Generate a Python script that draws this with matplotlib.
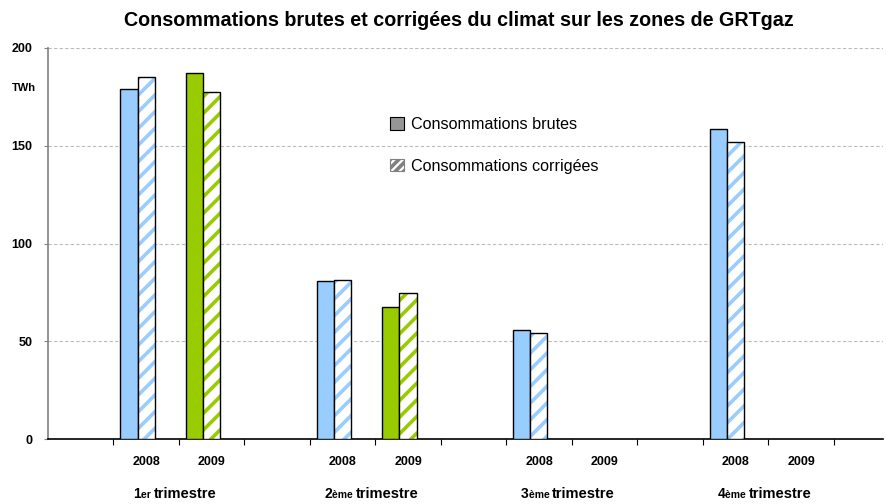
import re
import matplotlib
matplotlib.use("Agg")
import matplotlib.pyplot as plt
from matplotlib.patches import Patch
from matplotlib.offsetbox import TextArea, HPacker, AnnotationBbox

plt.rcParams['font.family'] = ['Liberation Sans', 'DejaVu Sans']
plt.rcParams['hatch.linewidth'] = 2.6

# ---- data ----
quarters = ['1er trimestre', '2ème trimestre', '3ème trimestre', '4ème trimestre']
years = ['2008', '2009']
brutes_2008 = [179, 81, 56, 158.5]
brutes_2009 = [187, 67.5, 0, 0]
corrigees_2008 = [185, 81.3, 54, 152]
corrigees_2009 = [177.5, 74.7, 0, 0]
year_colors = {'2008': '#99CCFF', '2009': '#99CC00'}
yticks = [0, 50, 100, 150, 200]

W, H = 886, 504
fig = plt.figure(figsize=(W / 100, H / 100), dpi=100)
ax = fig.add_axes([48 / W, 1 - 439 / H, (883 - 48) / W, (439 - 48) / H])

brutes = {'2008': brutes_2008, '2009': brutes_2009}
corr = {'2008': corrigees_2008, '2009': corrigees_2009}
bw = 0.26
off = 0.107

label_pos, label_txt = [], []
for qi, q in enumerate(quarters):
    for yi, y in enumerate(years):
        slot = 1 + 3 * qi + yi
        label_pos.append(slot + 0.5)
        label_txt.append(y)
        b = brutes[y][qi]
        c = corr[y][qi]
        col = year_colors[y]
        if b > 0:
            ax.bar(slot + off, b, width=bw, align='edge', color=col,
                   edgecolor='black', linewidth=1.0, zorder=3)
        if c > 0:
            ax.bar(slot + off + bw, c, width=bw, align='edge', color='white',
                   edgecolor=col, hatch='//', linewidth=0, zorder=3)
            ax.bar(slot + off + bw, c, width=bw, align='edge', fill=False,
                   edgecolor='black', linewidth=1.0, zorder=4)

ax.set_xlim(0, 12.75)
ax.set_ylim(0, 200)
ax.set_yticks(yticks)
ax.set_yticklabels([str(v) for v in yticks], fontweight='bold', fontsize=9)
ax.tick_params(axis='y', length=3, pad=8, color='#808080')
ax.set_xticks(range(1, 13))
ax.set_xticklabels([])
ax.tick_params(axis='x', which='major', length=4, direction='out', color='black')
ax.set_xticks(label_pos, minor=True)
ax.set_xticklabels(label_txt, minor=True, fontweight='bold', fontsize=9)
ax.tick_params(axis='x', which='minor', length=0, pad=12)

for v in yticks[1:]:
    ax.axhline(v, color='#BBBBBB', linewidth=0.8, linestyle=(0, (3, 2)), zorder=1)

for s in ['top', 'right']:
    ax.spines[s].set_visible(False)
ax.spines['left'].set_color('#808080')
ax.spines['left'].set_linewidth(1.2)
ax.spines['bottom'].set_color('black')
ax.spines['bottom'].set_linewidth(1.2)

# quarter labels with small suffix
for qi, q in enumerate(quarters):
    m = re.match(r'(\d)(\S+)\s(.*)', q)
    parts = [TextArea(m.group(1), textprops=dict(fontweight='bold', fontsize=10)),
             TextArea(m.group(2) + ' ', textprops=dict(fontweight='bold', fontsize=7.5)),
             TextArea(m.group(3), textprops=dict(fontweight='bold', fontsize=10.5))]
    pk = HPacker(children=parts, align='baseline', pad=0, sep=0)
    ab = AnnotationBbox(pk, (3 * qi + 2 - 0.06, 1 - 494 / H),
                        xycoords=('data', 'figure fraction'),
                        box_alignment=(0.5, 0.5), frameon=False, pad=0,
                        annotation_clip=False)
    ax.add_artist(ab)

fig.text(24 / W, 1 - 88 / H, 'TWh', fontweight='bold', fontsize=8,
         ha='center', va='center')
fig.text(459 / W, 1 - 20 / H,
         'Consommations brutes et corrigées du climat sur les zones de GRTgaz',
         fontweight='bold', fontsize=14.2, ha='center', va='center')

handles = [Patch(facecolor='#969696', edgecolor='black', linewidth=0.8),
           Patch(facecolor='white', edgecolor='#969696', hatch='////', linewidth=0.8)]
leg = ax.legend(handles, ['Consommations brutes', 'Consommations corrigées'],
                loc='upper left', bbox_to_anchor=(390 / W, 1 - 117 / H),
                bbox_transform=fig.transFigure, frameon=False, fontsize=11.6,
                handlelength=0.85, handleheight=0.85, handletextpad=0.45,
                labelspacing=1.65, borderaxespad=0, borderpad=0)
leg.legend_handles[1].set_edgecolor('#808080')

fig.savefig('out.png', dpi=100)
